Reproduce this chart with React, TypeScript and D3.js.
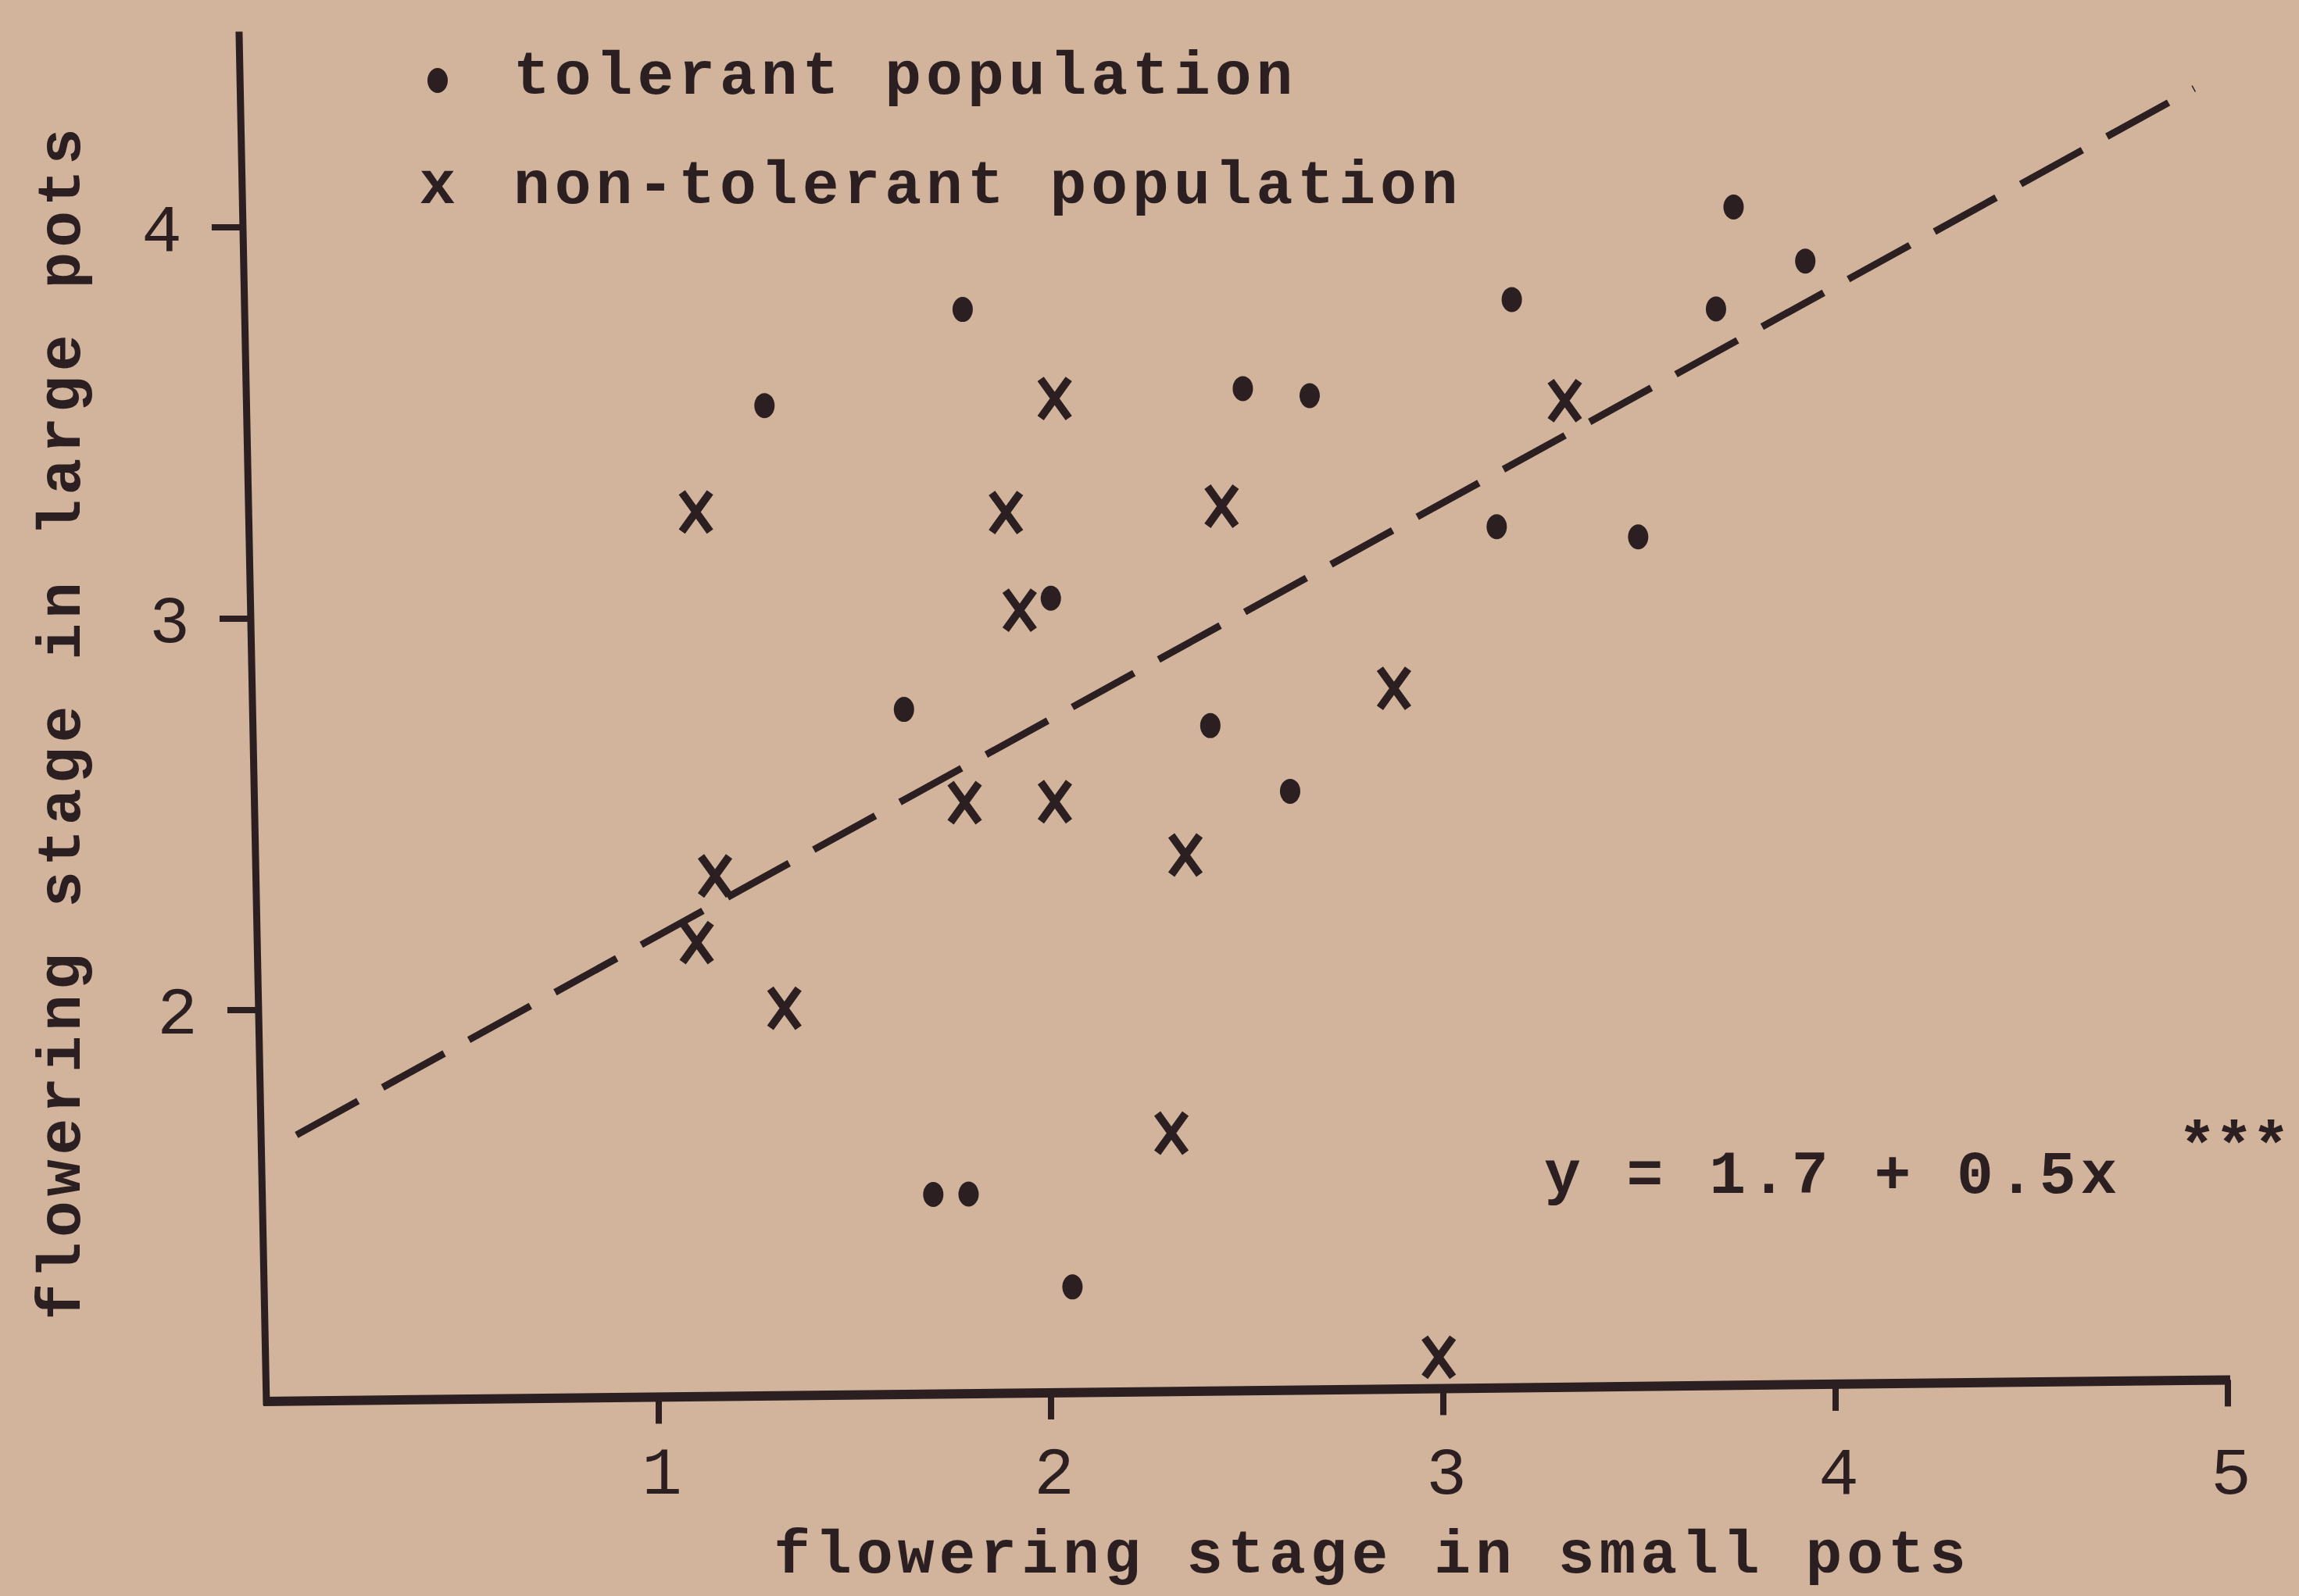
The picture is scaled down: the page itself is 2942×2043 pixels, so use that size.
import React from "react";
import * as d3 from "d3";

// ---- data ----
const xDomain = [0, 5];
const yDomain = [1, 4.5];
const xTicks = [1, 2, 3, 4, 5];
const yTicks = [2, 3, 4];

const tolerantX = [3.8, 3.98, 3.75, 3.23, 1.83, 1.32, 2.54, 2.71, 3.18, 3.54, 2.04, 1.66, 2.44, 2.64, 1.71, 1.8, 2.06];
const tolerantY = [4.01, 3.87, 3.75, 3.78, 3.77, 3.53, 3.56, 3.54, 3.2, 3.17, 3.03, 2.75, 2.7, 2.53, 1.51, 1.51, 1.27];

const nonTolerantX = [2.06, 1.14, 1.93, 2.48, 1.96, 3.36, 2.91, 1.17, 1.12, 1.81, 2.04, 2.37, 1.34, 2.32, 2.99];
const nonTolerantY = [3.54, 3.26, 3.25, 3.26, 3.0, 3.52, 2.79, 2.33, 2.16, 2.51, 2.51, 2.37, 1.99, 1.66, 1.08];

const fitLineX = [0.09, 4.98];
const fitLineY = [1.68, 4.3];

const legendLabels = ["tolerant population", "non-tolerant population"];
const xAxisTitle = "flowering stage in small pots";
const yAxisTitle = "flowering stage in large pots";
const equationText = "y = 1.7 + 0.5x";
const significanceText = "***";

// ---- layout / style ----
const W = 2942;
const H = 2043;
const BG = "#d1b49b";
const INK = "#2b1f22";
const FONT = "'Liberation Mono', 'DejaVu Sans Mono', monospace";
const ox = 341;
const oy = 1794;
const kx = 0.02; // scan shear (y axis lean)
const ky = -0.011; // scan shear (x axis slope)

const x = d3.scaleLinear().domain(xDomain).range([0, 2510]);
const y = d3.scaleLinear().domain(yDomain).range([0, -1753.5]);

const P = (xv: number, yv: number): [number, number] => [
  ox + x(xv) + kx * y(yv),
  oy + y(yv) + ky * x(xv),
];

export default function App() {
  const lineGen = d3.line<[number, number]>();
  const fitPts = fitLineX.map((v, i) => P(v, fitLineY[i]));
  const yTop = P(0, yDomain[1]);
  const corner = P(0, yDomain[0]);
  const xEnd = P(xDomain[1], yDomain[0]);

  const letter = { fontFamily: FONT, fontWeight: 700, fontSize: 78, letterSpacing: 6, fill: INK } as const;

  return (
    <svg
      width={W}
      height={H}
      viewBox={`0 0 ${W} ${H}`}
      style={{ position: "absolute", left: 0, top: 0, background: BG }}
    >
      <rect x={0} y={0} width={W} height={H} fill={BG} />

      {/* axes */}
      <line x1={yTop[0]} y1={yTop[1]} x2={corner[0]} y2={corner[1] + 5} stroke={INK} strokeWidth={9} />
      <line x1={corner[0] - 4} y1={corner[1]} x2={xEnd[0] + 3} y2={xEnd[1]} stroke={INK} strokeWidth={12} />

      {yTicks.map((t) => {
        const [px, py] = P(0, t);
        return (
          <g key={"yt" + t}>
            <line x1={px - 40} y1={py} x2={px} y2={py} stroke={INK} strokeWidth={8} />
            <text x={px - 104} y={py} dy="0.35em" textAnchor="middle" fontFamily={FONT} fontSize={86} fill={INK}>
              {t}
            </text>
          </g>
        );
      })}

      {xTicks.map((t) => {
        const [px, py] = P(t, yDomain[0]);
        return (
          <g key={"xt" + t}>
            <line x1={px} y1={py} x2={px} y2={py + 34} stroke={INK} strokeWidth={8} />
            <text x={px + 4} y={oy + 88} dy="0.35em" textAnchor="middle" fontFamily={FONT} fontSize={86} fill={INK}>
              {t}
            </text>
          </g>
        );
      })}

      {/* regression line */}
      <path
        d={lineGen(fitPts) || ""}
        fill="none"
        stroke={INK}
        strokeWidth={9}
        strokeDasharray="90 36"
      />

      {/* tolerant population: dots */}
      {tolerantX.map((v, i) => {
        const [px, py] = P(v, tolerantY[i]);
        return <ellipse key={"t" + i} cx={px} cy={py} rx={13} ry={16} fill={INK} />;
      })}

      {/* non-tolerant population: crosses */}
      {nonTolerantX.map((v, i) => {
        const [px, py] = P(v, nonTolerantY[i]);
        return (
          <path
            key={"n" + i}
            transform={`translate(${px},${py})`}
            d="M-18,-25L18,25M18,-25L-18,25"
            stroke={INK}
            strokeWidth={10}
            fill="none"
          />
        );
      })}

      {/* legend */}
      <ellipse cx={560} cy={103} rx={13} ry={16} fill={INK} />
      <text x={657} y={120} {...letter}>
        {legendLabels[0]}
      </text>
      <text x={560} y={260} textAnchor="middle" {...letter} letterSpacing={0}>
        x
      </text>
      <text x={657} y={260} {...letter}>
        {legendLabels[1]}
      </text>

      {/* equation */}
      <text x={1976} y={1527} {...letter}>
        {equationText}
      </text>
      <text x={2787} y={1492} {...letter} fontSize={82} letterSpacing={-2}>
        {significanceText}
      </text>

      {/* axis titles */}
      <text x={1756} y={2013} textAnchor="middle" {...letter}>
        {xAxisTitle}
      </text>
      <text transform="translate(102,924) rotate(-90)" textAnchor="middle" {...letter}>
        {yAxisTitle}
      </text>
    </svg>
  );
}
